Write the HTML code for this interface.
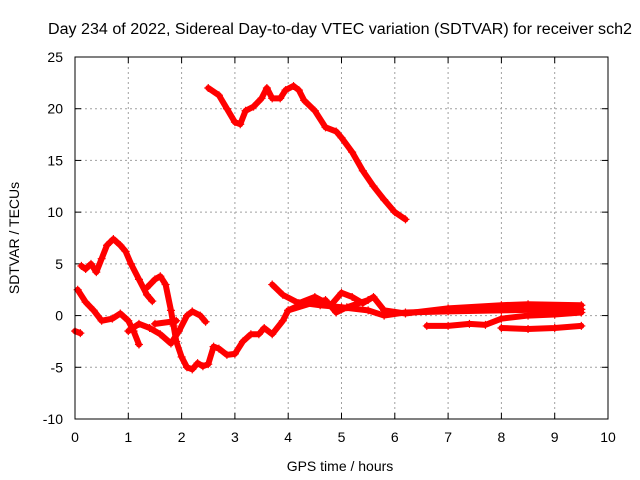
<!DOCTYPE html>
<html><head><meta charset="utf-8"><style>
body{margin:0;background:#fff;}
svg{display:block;font-family:"Liberation Sans",sans-serif;}
</style></head><body>
<svg id="chart" width="640" height="480">
<rect x="0" y="0" width="640" height="480" fill="#fff"/>
<text x="340" y="34" font-size="15.5" text-anchor="middle" textLength="584" lengthAdjust="spacingAndGlyphs">Day 234 of 2022, Sidereal Day-to-day VTEC variation (SDTVAR) for receiver sch2</text>
<text x="340" y="471" font-size="14" text-anchor="middle">GPS time / hours</text>
<text transform="translate(19,238) rotate(-90)" font-size="14" text-anchor="middle">SDTVAR / TECUs</text>
<g id="grid"></g><g id="series"></g>
<rect x="75" y="57" width="533" height="362" fill="none" stroke="#000" stroke-width="1"/>
</svg>
<script>
const xTicks=[0,1,2,3,4,5,6,7,8,9,10];
const yTicks=[-10,-5,0,5,10,15,20,25];
const seriesA=[[2.5,22],[2.7,21.3],[2.85,20],[3.0,18.7],[3.1,18.5],[3.2,19.8],[3.35,20.2],[3.5,21],[3.6,22],[3.7,21],[3.85,21],[3.95,21.8],[4.1,22.2],[4.2,21.8],[4.3,20.8],[4.5,19.8],[4.7,18.2],[4.9,17.8],[5.0,17.2],[5.2,15.8],[5.4,14],[5.6,12.5],[5.8,11.2],[6.0,10],[6.2,9.3]];
const seriesB=[[0.12,4.8],[0.2,4.5],[0.3,5],[0.4,4.2],[0.5,5.5],[0.6,6.8],[0.72,7.4],[0.85,6.8],[0.95,6.2],[1.05,5],[1.2,3.5],[1.35,2],[1.45,1.4]];
const seriesC=[[1.35,2.7],[1.5,3.5],[1.6,3.8],[1.7,3],[1.8,0.5],[1.85,-1],[1.9,-2.5],[2.0,-4],[2.1,-5],[2.2,-5.2],[2.3,-4.6],[2.4,-4.9],[2.5,-4.7],[2.6,-3],[2.7,-3.2],[2.85,-3.8],[3.0,-3.7],[3.15,-2.5],[3.3,-1.8],[3.45,-1.8],[3.55,-1.2],[3.7,-1.8],[3.9,-0.5],[4.0,0.5],[4.3,1.2],[4.6,1],[5.0,0.8],[5.5,0.5],[5.8,0],[6.2,0.3],[7,0.4],[8,0.5],[9,0.6],[9.5,0.6]];
const seriesD=[[0,-1.5],[0.1,-1.7]];
const seriesE=[[0.05,2.5],[0.2,1.3],[0.35,0.5],[0.5,-0.5],[0.7,-0.3],[0.85,0.2],[1.0,-0.5],[1.1,-1.5],[1.2,-2.8]];
const seriesF=[[1.0,-1.5],[1.2,-0.8],[1.4,-1.2],[1.6,-1.8],[1.8,-2.7],[1.95,-1.5],[2.1,0],[2.2,0.4],[2.35,0],[2.45,-0.6]];
const seriesG=[[1.5,-0.8],[1.8,-0.6],[1.9,-0.5]];
const seriesH=[[3.7,3],[3.9,2],[4.2,1.2],[4.5,1.8],[4.8,1],[5.0,2.2],[5.2,1.8],[5.4,1.2],[5.6,1.8],[5.8,0.5],[6.2,0.2],[7,0.7],[8,1.0],[8.5,1.1],[9.5,1.0]];
const seriesI=[[4.0,0.5],[4.5,1.3],[4.7,1.5],[4.9,0.3],[5.1,0.8],[5.5,1.5]];
const seriesJ1=[[6.6,-1],[7.0,-1],[7.4,-0.8],[7.7,-0.9],[8.0,-0.3],[8.5,0],[9.0,0.1],[9.5,0.3]];
const seriesJ2=[[8.0,-1.2],[8.5,-1.3],[9.0,-1.2],[9.5,-1.0]];
const allSeries=[seriesA,seriesB,seriesC,seriesD,seriesE,seriesF,seriesG,seriesH,seriesI,seriesJ1,seriesJ2];
const NS="http://www.w3.org/2000/svg";
const X0=75,X1=608,Y0=419,Y1=57;
function xs(v){return X0+(v-0)/(10-0)*(X1-X0);}
function ys(v){return Y0-(v+10)/35*(Y0-Y1);}
function mk(t,a,p){const e=document.createElementNS(NS,t);for(const k in a)e.setAttribute(k,a[k]);p.appendChild(e);return e;}
const grid=document.getElementById('grid');
xTicks.forEach(t=>{
  const x=xs(t);
  if(t>0&&t<10){const l=mk('line',{x1:x,x2:x,y1:Y1,y2:Y0,stroke:'#a0a0a0','stroke-dasharray':'2,3'},grid);
  
  }
  mk('line',{x1:x,x2:x,y1:Y0,y2:Y0-6,stroke:'#000'},grid);
  mk('line',{x1:x,x2:x,y1:Y1,y2:Y1+6,stroke:'#000'},grid);
  const tx=mk('text',{x:x,y:Y0+23,'font-size':14,'text-anchor':'middle'},grid);tx.textContent=t;
  
  
});
yTicks.forEach(t=>{
  const y=ys(t);
  if(t>-10&&t<25){const l=mk('line',{x1:X0,x2:X1,y1:y,y2:y,stroke:'#a0a0a0','stroke-dasharray':'2,3'},grid);
  
  }
  mk('line',{x1:X0,x2:X0+6,y1:y,y2:y,stroke:'#000'},grid);
  mk('line',{x1:X1,x2:X1-6,y1:y,y2:y,stroke:'#000'},grid);
  const tx=mk('text',{x:X0-12,y:y+5,'font-size':14,'text-anchor':'end'},grid);tx.textContent=t;
  
  
});
const sg=document.getElementById('series');
allSeries.forEach(s=>{
  const g=mk('g',{},sg);
  
  
  const pts=s.map(p=>xs(p[0])+','+ys(p[1])).join(' ');
  mk('polyline',{points:pts,fill:'none',stroke:'#f00','stroke-width':6,'stroke-linejoin':'round','stroke-linecap':'round'},g);
  s.forEach(p=>{
    const x=xs(p[0]),y=ys(p[1]);
    const m=mk('path',{d:`M${x-4},${y}H${x+4}M${x},${y-4}V${y+4}`,stroke:'#f00','stroke-width':1.2},g);
    
    
  });
});
</script>
</body></html>
